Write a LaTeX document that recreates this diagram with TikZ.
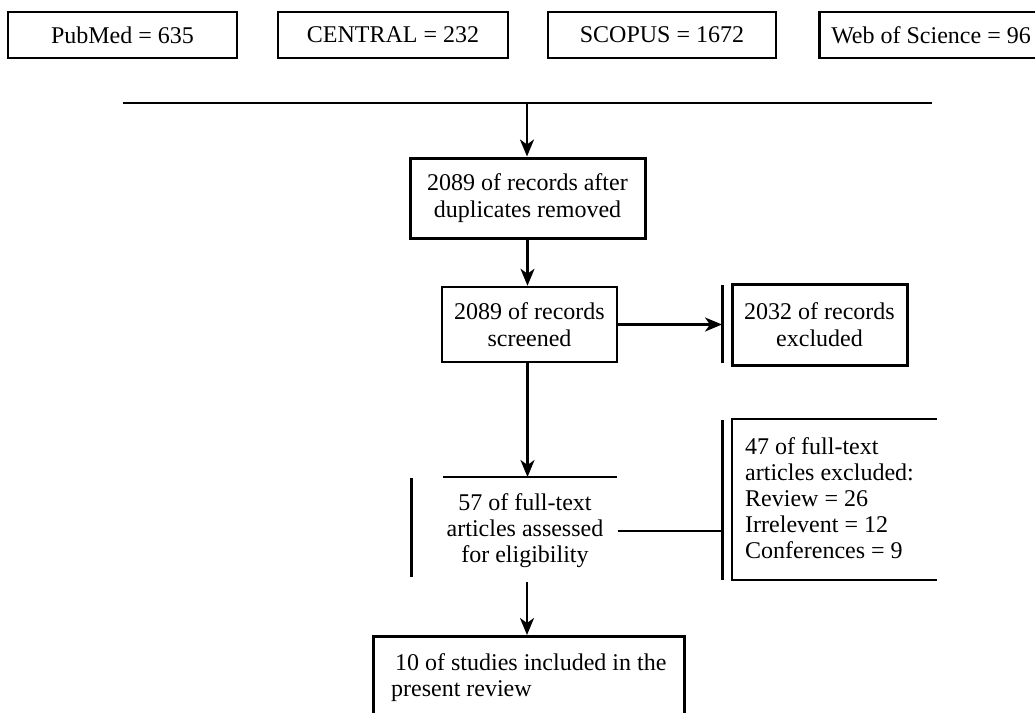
\documentclass[tikz,border=0pt]{standalone}
\usepackage{fontspec}
\setmainfont{Liberation Serif}
\usetikzlibrary{arrows.meta}
\begin{document}
\begin{tikzpicture}[x=1pt,y=-1pt,
  box/.style={draw,line width=2.5pt,inner sep=0pt,align=center,font=\fontsize{24}{27}\selectfont},
  txt/.style={inner sep=0pt,font=\fontsize{24}{26}\selectfont},
  arr/.style={line width=2.5pt,-{Stealth[length=17pt,width=14pt,inset=5pt]}},
  ln/.style={line width=2.5pt},
  bar/.style={line width=3pt}]
\useasboundingbox (0,0) rectangle (1035,712);
\clip (0,0) rectangle (1035,712);
% database boxes
\node[box,minimum width=229pt,minimum height=46pt] (pub) at (122.5,35) {PubMed = 635};
\node[box,minimum width=230pt,minimum height=46pt] (cen) at (393,35) {CENTRAL = 232};
\node[box,minimum width=228pt,minimum height=46pt] (sco) at (662,35) {SCOPUS = 1672};
\node[box,minimum height=46pt,anchor=west,inner xsep=12pt] (wos) at (818,35) {Web of Science = 96};
% collecting line
\coordinate (hl) at (123,103);
\coordinate (hr) at (932,103);
\coordinate (hm) at (527,103);
\draw[ln] (hl) -- (hr);
% after duplicates
\node[box,line width=3pt,minimum width=235pt,minimum height=80pt] (b1) at (527.5,198) {2089 of records after\\duplicates removed};
\draw[arr] (hm) -- (hm |- b1.north);
% screened
\node[box,minimum width=175pt,minimum height=75pt] (b2) at (529.5,324.5) {2089 of records\\screened};
\draw[arr] (b1.south) -- (b1.south |- b2.north);
% excluded
\coordinate (bar1t) at (722,285);
\coordinate (bar1b) at (722,363);
\draw[bar] (bar1t) -- (bar1b);
\node[box,line width=3pt,minimum width=175pt,minimum height=81pt] (b3) at (819.5,324.5) {2032 of records\\excluded};
\draw[arr] (b2.east) -- (b2.east -| bar1t);
% full-text assessed
\node[txt,align=center] (n57) at (525,531) {57 of full-text\\articles assessed\\for eligibility};
\coordinate (n57tl) at (443,477);
\coordinate (n57tr) at (617,477);
\coordinate (n57lt) at (411,478);
\coordinate (n57lb) at (411,577);
\coordinate (n57b) at (527,582);
\draw[ln] (n57tl) -- (n57tr);
\draw[bar] (n57lt) -- (n57lb);
\draw[arr] (b1.south |- b2.south) -- (b1.south |- n57tl);
% full-text excluded
\coordinate (bar2t) at (722,420);
\coordinate (bar2b) at (722,580);
\draw[bar] (bar2t) -- (bar2b);
\node[txt,align=left,anchor=west] (b47) at (745,498) {47 of full-text\\articles excluded:\\Review = 26\\Irrelevent = 12\\Conferences = 9};
\coordinate (b47tr) at (937,419);
\coordinate (b47tl) at (732,419);
\coordinate (b47bl) at (732,580);
\coordinate (b47br) at (937,580);
\draw[ln] (b47tr) -- (b47tl) -- (b47bl) -- (b47br);
\draw[ln] ([xshift=14pt]n57.east) -- (n57.east -| bar2t);
% included
\node[box,anchor=north west,minimum width=311pt,align=left,inner xsep=13pt,inner ysep=17pt,font=\fontsize{24}{26}\selectfont] (b10) at (372,635) {\hspace{4pt}10 of studies included in the\\present review};
\draw[arr] (n57b) -- (n57b |- b10.north);
\end{tikzpicture}
\end{document}
